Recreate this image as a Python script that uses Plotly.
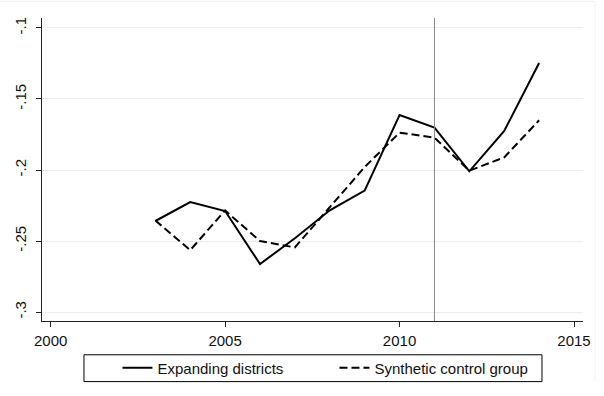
import plotly.graph_objects as go

years = [2003, 2004, 2005, 2006, 2007, 2008, 2009, 2010, 2011, 2012, 2013, 2014]
expanding = [-0.2359, -0.2226, -0.2289, -0.2662, -0.2480, -0.2284, -0.2145,
             -0.1613, -0.1702, -0.2009, -0.1725, -0.1247]
synthetic = [-0.2355, -0.2564, -0.2285, -0.2500, -0.2545, -0.2263, -0.1979,
             -0.1737, -0.1772, -0.2005, -0.1911, -0.1650]
treat_year = 2011
x_ticks = [2000, 2005, 2010, 2015]
y_ticks = [-0.3, -0.25, -0.2, -0.15, -0.1]
y_ticklabels = ["-.3", "-.25", "-.2", "-.15", "-.1"]
names = ["Expanding districts", "Synthetic control group"]

FONT = "Liberation Sans, Arial, sans-serif"
INK = "#111111"

fig = go.Figure()
fig.add_trace(go.Scatter(x=years, y=expanding, mode="lines", name=names[0],
                         line=dict(color="black", width=2)))
fig.add_trace(go.Scatter(x=years, y=synthetic, mode="lines", name=names[1],
                         line=dict(color="black", width=2, dash="8px,4px")))

fig.add_shape(type="line", xref="x", yref="paper", x0=treat_year, x1=treat_year,
              y0=0, y1=1, line=dict(color="#8a8a8a", width=1))
# legend frame
fig.add_shape(type="rect", xref="paper", yref="paper", x0=0.0776, x1=0.9242,
              y0=-0.2, y1=-0.1115, line=dict(color="black", width=1))
# faint outer frame
fig.add_shape(type="line", xref="paper", yref="paper", x0=-0.08, x1=1.022,
              y0=1.055, y1=1.055, line=dict(color="#f0f0f0", width=1))
fig.add_shape(type="line", xref="paper", yref="paper", x0=1.022, x1=1.022,
              y0=-0.2, y1=1.055, line=dict(color="#f0f0f0", width=1))

fig.update_layout(
    width=604, height=396,
    margin=dict(l=42, r=21, t=18, b=73, pad=0),
    paper_bgcolor="white", plot_bgcolor="white",
    font=dict(family=FONT, size=15, color=INK),
    showlegend=True,
    legend=dict(orientation="h", x=0.1395, xanchor="left", y=-0.155, yanchor="middle",
                bgcolor="rgba(0,0,0,0)", borderwidth=0,
                entrywidth=172, entrywidthmode="pixels",
                font=dict(family=FONT, size=15, color=INK)),
    xaxis=dict(range=[1999.751, 2015.258], tickvals=x_ticks,
               showline=True, linecolor="#222222", linewidth=1,
               ticks="outside", ticklen=5, tickcolor="#222222",
               showgrid=False, zeroline=False, ticklabelstandoff=1),
    yaxis=dict(range=[-0.30629, -0.09301], tickvals=y_ticks, ticktext=y_ticklabels,
               tickangle=-90,
               showline=True, linecolor="#222222", linewidth=1,
               ticks="outside", ticklen=5, tickcolor="#222222",
               showgrid=True, gridcolor="#ececec", gridwidth=1,
               zeroline=False, ticklabelstandoff=4),
)

fig.write_html("out.html")
